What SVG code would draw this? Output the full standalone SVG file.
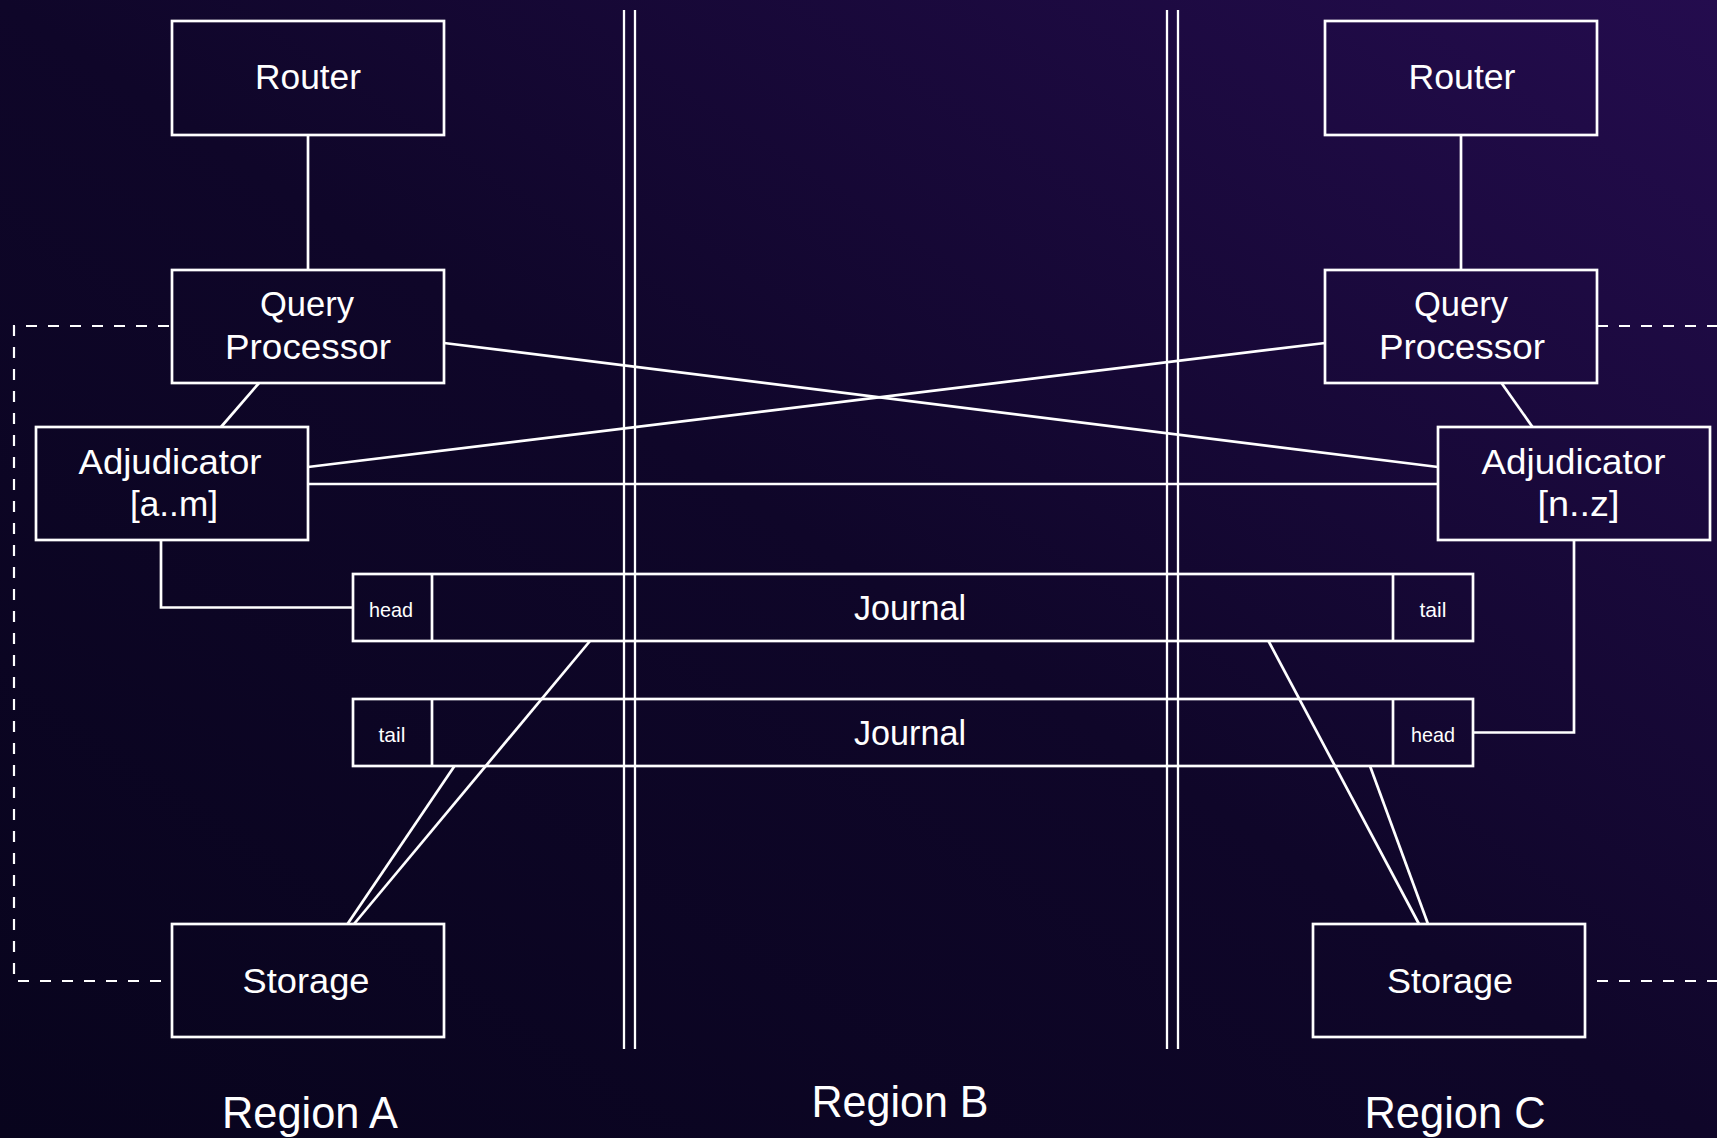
<svg xmlns="http://www.w3.org/2000/svg" width="1717" height="1138" viewBox="0 0 1717 1138">
  <defs>
    <linearGradient id="bg" x1="0" y1="1" x2="1" y2="0">
      <stop offset="0" stop-color="#08041d"/>
      <stop offset="0.5" stop-color="#0f0629"/>
      <stop offset="1" stop-color="#240c4e"/>
    </linearGradient>
    <style>
      .box { fill: none; stroke: #ffffff; stroke-width: 2.7; }
      .wire { fill: none; stroke: #ffffff; stroke-width: 2.7; }
      .wall { fill: none; stroke: #ffffff; stroke-width: 2.3; }
      .zone { fill: none; stroke: #ffffff; stroke-width: 2.2; stroke-dasharray: 11 11; }
      .lbl { fill: #ffffff; font-family: "Liberation Sans", Arial, sans-serif; font-size: 34.5px; text-anchor: middle; }
      .jr { fill: #ffffff; font-family: "Liberation Sans", Arial, sans-serif; font-size: 35px; text-anchor: middle; }
      .cell { fill: #ffffff; font-family: "Liberation Sans", Arial, sans-serif; font-size: 21px; text-anchor: middle; }
      .region { fill: #ffffff; font-family: "Liberation Sans", Arial, sans-serif; font-size: 45px; text-anchor: middle; }
    </style>
  </defs>

  <rect width="1717" height="1138" fill="url(#bg)"/>

  <!-- region boundaries -->
  <g id="boundaries">
    <path class="zone" d="M161,981 H14 V326 H172"/>
    <path class="zone" d="M1597,326 H1717"/>
    <path class="zone" d="M1597,981 H1717"/>
    <line class="wall" x1="624" y1="10" x2="624" y2="1049"/>
    <line class="wall" x1="635" y1="10" x2="635" y2="1049"/>
    <line class="wall" x1="1167" y1="10" x2="1167" y2="1049"/>
    <line class="wall" x1="1178" y1="10" x2="1178" y2="1049"/>
  </g>

  <!-- connectors -->
  <g id="connectors">
    <line class="wire" x1="308" y1="135" x2="308" y2="270"/>
    <line class="wire" x1="1461" y1="135" x2="1461" y2="270"/>
    <line class="wire" x1="259" y1="383" x2="221" y2="427"/>
    <line class="wire" x1="1501.5" y1="383" x2="1532.5" y2="427"/>
    <line class="wire" x1="444" y1="343" x2="1438" y2="467"/>
    <line class="wire" x1="308" y1="467" x2="1325" y2="343"/>
    <line class="wire" x1="308" y1="484" x2="1438" y2="484"/>
    <path class="wire" d="M161,540 V607.5 H353"/>
    <path class="wire" d="M1574,540 V732.5 H1473"/>
    <line class="wire" x1="590" y1="641" x2="354" y2="924"/>
    <line class="wire" x1="454.5" y1="766" x2="347.5" y2="924"/>
    <line class="wire" x1="1268.5" y1="641" x2="1419" y2="924"/>
    <line class="wire" x1="1370" y1="766" x2="1428" y2="924"/>
  </g>

  <!-- Region A -->
  <g id="router-a">
    <rect class="box" x="172" y="21" width="272" height="114"/>
    <text class="lbl" x="308" y="89" textLength="106" lengthAdjust="spacingAndGlyphs">Router</text>
  </g>
  <g id="query-processor-a">
    <rect class="box" x="172" y="270" width="272" height="113"/>
    <text class="lbl" x="307" y="316" textLength="94" lengthAdjust="spacingAndGlyphs">Query</text>
    <text class="lbl" x="308" y="359" textLength="166" lengthAdjust="spacingAndGlyphs">Processor</text>
  </g>
  <g id="adjudicator-a">
    <rect class="box" x="36" y="427" width="272" height="113"/>
    <text class="lbl" x="170" y="474" textLength="183" lengthAdjust="spacingAndGlyphs">Adjudicator</text>
    <text class="lbl" x="174" y="516" textLength="88" lengthAdjust="spacingAndGlyphs">[a..m]</text>
  </g>
  <g id="storage-a">
    <rect class="box" x="172" y="924" width="272" height="113"/>
    <text class="lbl" x="306" y="993" textLength="127" lengthAdjust="spacingAndGlyphs">Storage</text>
  </g>

  <!-- Region C -->
  <g id="router-c">
    <rect class="box" x="1325" y="21" width="272" height="114"/>
    <text class="lbl" x="1462" y="89" textLength="107" lengthAdjust="spacingAndGlyphs">Router</text>
  </g>
  <g id="query-processor-c">
    <rect class="box" x="1325" y="270" width="272" height="113"/>
    <text class="lbl" x="1461" y="316" textLength="94" lengthAdjust="spacingAndGlyphs">Query</text>
    <text class="lbl" x="1462" y="359" textLength="166" lengthAdjust="spacingAndGlyphs">Processor</text>
  </g>
  <g id="adjudicator-c">
    <rect class="box" x="1438" y="427" width="272" height="113"/>
    <text class="lbl" x="1573.5" y="474" textLength="184" lengthAdjust="spacingAndGlyphs">Adjudicator</text>
    <text class="lbl" x="1578.5" y="516" textLength="82" lengthAdjust="spacingAndGlyphs">[n..z]</text>
  </g>
  <g id="storage-c">
    <rect class="box" x="1313" y="924" width="272" height="113"/>
    <text class="lbl" x="1450" y="993" textLength="126" lengthAdjust="spacingAndGlyphs">Storage</text>
  </g>

  <!-- journals spanning all regions -->
  <g id="journal-a-to-c">
    <rect class="box" x="353" y="574" width="1120" height="67"/>
    <line class="box" x1="432" y1="574" x2="432" y2="641"/>
    <line class="box" x1="1393" y1="574" x2="1393" y2="641"/>
    <text class="cell" x="391" y="617" textLength="44" lengthAdjust="spacingAndGlyphs">head</text>
    <text class="jr" x="910" y="620" textLength="112" lengthAdjust="spacingAndGlyphs">Journal</text>
    <text class="cell" x="1433" y="617" textLength="27" lengthAdjust="spacingAndGlyphs">tail</text>
  </g>
  <g id="journal-c-to-a">
    <rect class="box" x="353" y="699" width="1120" height="67"/>
    <line class="box" x1="432" y1="699" x2="432" y2="766"/>
    <line class="box" x1="1393" y1="699" x2="1393" y2="766"/>
    <text class="cell" x="392" y="742" textLength="27" lengthAdjust="spacingAndGlyphs">tail</text>
    <text class="jr" x="910" y="745" textLength="112" lengthAdjust="spacingAndGlyphs">Journal</text>
    <text class="cell" x="1433" y="742" textLength="44" lengthAdjust="spacingAndGlyphs">head</text>
  </g>

  <!-- region captions -->
  <g id="captions">
    <text class="region" x="310" y="1128" textLength="176" lengthAdjust="spacingAndGlyphs">Region A</text>
    <text class="region" x="900" y="1117" textLength="177" lengthAdjust="spacingAndGlyphs">Region B</text>
    <text class="region" x="1455" y="1128" textLength="181" lengthAdjust="spacingAndGlyphs">Region C</text>
  </g>
</svg>
